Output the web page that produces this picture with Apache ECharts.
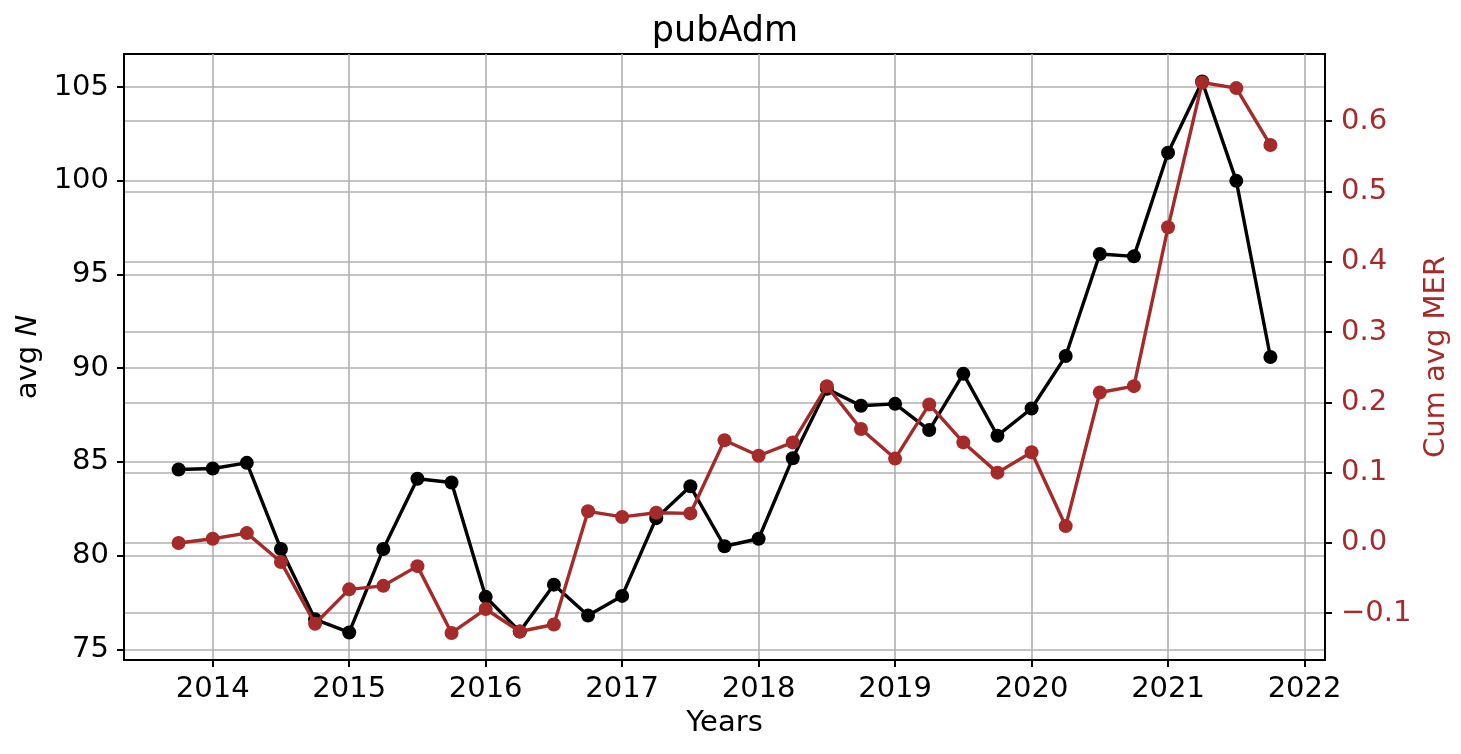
<!DOCTYPE html>
<html>
<head>
<meta charset="utf-8">
<script src="https://cdn.jsdelivr.net/npm/echarts@6/dist/echarts.min.js"></script>
<style>
  html, body { margin: 0; padding: 0; background: #fff; }
  #chart { width: 1461px; height: 754px; }
</style>
</head>
<body>
<div id="chart"></div>
<script>
// quarterly time points (decimal years)
const quarters = [
  2013.75, 2014.0, 2014.25, 2014.5, 2014.75, 2015.0, 2015.25, 2015.5, 2015.75,
  2016.0, 2016.25, 2016.5, 2016.75, 2017.0, 2017.25, 2017.5, 2017.75,
  2018.0, 2018.25, 2018.5, 2018.75, 2019.0, 2019.25, 2019.5, 2019.75,
  2020.0, 2020.25, 2020.5, 2020.75, 2021.0, 2021.25, 2021.5, 2021.75
];
// avg N (left axis)
const avgN = [
  84.6, 84.65, 84.95, 80.35, 76.6, 75.9, 80.35, 84.1, 83.9,
  77.8, 75.95, 78.45, 76.8, 77.85, 82.0, 83.7, 80.5,
  80.9, 85.2, 88.9, 88.0, 88.1, 86.7, 89.7, 86.4,
  87.85, 90.65, 96.1, 95.97, 101.5, 105.3, 100.0, 90.6
];
// cumulative avg MER (right axis)
const cumMER = [
  0.0, 0.006, 0.014, -0.027, -0.115, -0.066, -0.061, -0.033, -0.128,
  -0.094, -0.126, -0.116, 0.045, 0.037, 0.043, 0.042, 0.146,
  0.124, 0.143, 0.223, 0.162, 0.12, 0.197, 0.143, 0.1,
  0.129, 0.024, 0.214, 0.223, 0.449, 0.655, 0.647, 0.566
];
// tick values
const yearTicks = [2014, 2015, 2016, 2017, 2018, 2019, 2020, 2021, 2022];
const leftTicks = [75, 80, 85, 90, 95, 100, 105];
const rightTicks = [-0.1, 0.0, 0.1, 0.2, 0.3, 0.4, 0.5, 0.6];

const FONT = 'DejaVu Sans';
const FS = 29;
const BROWN = '#a52a2a';
const GRID_LINE = { show: true, lineStyle: { color: '#b0b0b0', width: 1.6 } };

const chart = echarts.init(document.getElementById('chart'), null, { renderer: 'canvas' });

chart.setOption({
  animation: false,
  textStyle: { fontFamily: FONT },
  title: {
    text: 'pubAdm',
    left: 720,
    top: 9,
    textAlign: 'center',
    textStyle: { fontFamily: FONT, fontSize: 35, fontWeight: 'normal', color: '#000' }
  },
  grid: {
    left: 124, right: 136, top: 54, bottom: 94,
    show: true, borderColor: '#000', borderWidth: 2, backgroundColor: 'transparent'
  },
  xAxis: {
    type: 'value',
    min: 2013.35,
    max: 2022.15,
    name: 'Years',
    nameLocation: 'middle',
    nameGap: 47,
    nameTextStyle: { fontFamily: FONT, fontSize: FS, color: '#000' },
    axisLine: { show: true, onZero: false, lineStyle: { color: '#000', width: 2 } },
    axisTick: { show: true, inside: false, length: 7, customValues: yearTicks, lineStyle: { color: '#000', width: 2 } },
    axisLabel: {
      customValues: yearTicks, margin: 15,
      fontFamily: FONT, fontSize: FS, color: '#000',
      formatter: (v) => String(Math.round(v))
    },
    splitLine: GRID_LINE
  },
  yAxis: [
    {
      type: 'value',
      position: 'left',
      min: 74.43,
      max: 106.77,
      name: 'avg {i|N}',
      nameLocation: 'middle',
      nameRotate: 90,
      nameGap: 78,
      nameTextStyle: {
        fontFamily: FONT, fontSize: FS, color: '#000',
        rich: { i: { fontFamily: FONT, fontSize: FS, fontStyle: 'italic', color: '#000' } }
      },
      axisLine: { show: true, onZero: false, lineStyle: { color: '#000', width: 2 } },
      axisTick: { show: true, inside: false, length: 7, customValues: leftTicks, lineStyle: { color: '#000', width: 2 } },
      axisLabel: {
        customValues: leftTicks, margin: 15,
        fontFamily: FONT, fontSize: FS, color: '#000',
        formatter: (v) => String(Math.round(v))
      },
      splitLine: GRID_LINE
    },
    {
      type: 'value',
      position: 'right',
      min: -0.1665,
      max: 0.6955,
      name: 'Cum avg MER',
      nameLocation: 'middle',
      nameRotate: 90,
      nameGap: 87,
      nameTextStyle: { fontFamily: FONT, fontSize: FS, color: BROWN },
      axisLine: { show: true, onZero: false, lineStyle: { color: '#000', width: 2 } },
      axisTick: { show: true, inside: false, length: 7, customValues: rightTicks, lineStyle: { color: '#000', width: 2 } },
      axisLabel: {
        customValues: rightTicks, margin: 16,
        fontFamily: FONT, fontSize: FS, color: BROWN,
        formatter: (v) => v.toFixed(1).replace('-', '\u2212')
      },
      splitLine: GRID_LINE
    }
  ],
  series: [
    {
      name: 'avg N',
      type: 'line',
      yAxisIndex: 0,
      data: quarters.map((q, i) => [q, avgN[i]]),
      symbol: 'circle',
      symbolSize: 14,
      itemStyle: { color: '#000' },
      lineStyle: { color: '#000', width: 3.4 },
      z: 3
    },
    {
      name: 'Cum avg MER',
      type: 'line',
      yAxisIndex: 1,
      data: quarters.map((q, i) => [q, cumMER[i]]),
      symbol: 'circle',
      symbolSize: 14,
      itemStyle: { color: BROWN },
      lineStyle: { color: BROWN, width: 3.4 },
      z: 4
    }
  ]
});
</script>
</body>
</html>
